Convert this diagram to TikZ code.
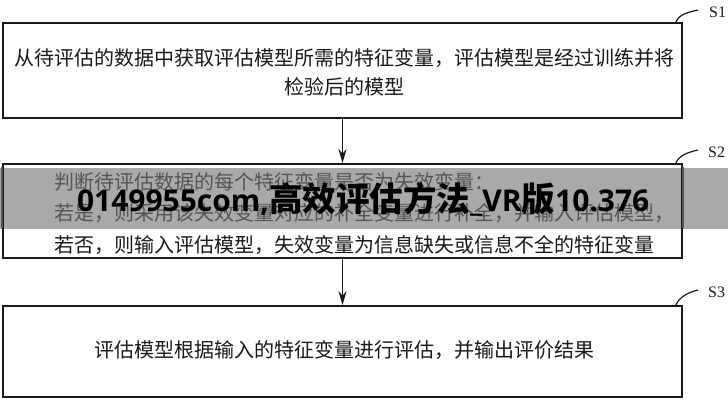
\documentclass[tikz,border=0pt]{standalone}
\usepackage{fontspec}
\setmainfont{Liberation Serif}
\newfontfamily\cjk{Noto Sans CJK SC}
\newfontfamily\lat{Open Sans}
\usetikzlibrary{arrows.meta,calc}
\definecolor{bandc}{RGB}{169,169,169}
\definecolor{dim}{RGB}{85,85,85}
\definecolor{ink}{RGB}{25,25,25}
\tikzset{
  stepbox/.style={draw=ink, line width=1.8pt, inner sep=0pt, minimum width=679pt},
  txt/.style={text=ink, inner sep=0pt, font=\cjk\fontsize{20}{29}\selectfont},
  arr/.style={draw=ink, line width=1.6pt, -{Stealth[length=14pt,width=8pt]}},
  lead/.style={draw=ink, line width=1.2pt},
  dimedge/.style={draw=dim, line width=1.9pt},
  lab/.style={text=ink, inner sep=0pt, font=\fontsize{16}{18}\selectfont},
  wml/.style={text=black, inner sep=0pt, outer sep=0pt, anchor=base west, font=\lat\bfseries\fontsize{30}{36}\selectfont},
  wmc/.style={text=black, inner sep=0pt, outer sep=0pt, anchor=base west, font=\cjk\bfseries\fontsize{33.5}{36}\selectfont}
}
\begin{document}
\begin{tikzpicture}[x=1pt,y=-1pt]
\useasboundingbox (0,0) rectangle (728,400);
\fill[white] (0,0) rectangle (728,400);
% watermark band
\fill[bandc] (0,168) rectangle (728,229);
\node[stepbox, minimum height=95pt] (b1) at (342.5,70.5) {};
\node[stepbox, minimum height=94pt] (b2) at (342.5,211) {};
\node[stepbox, minimum height=91pt] (b3) at (342.5,351.5) {};
% parts of box 2 lying under the band
\draw[dimedge] ($(b2.north west)+(0,4)$) -- ($(b2.north west)+(0,65)$);
\draw[dimedge] ($(b2.north east)+(0,4)$) -- ($(b2.north east)+(0,65)$);
\node[txt] (t1) at (344,72.5) [align=center] {从待评估的数据中获取评估模型所需的特征变量，评估模型是经过训练并将\\检验后的模型};
\node[txt, text=dim, anchor=west] (t2a) at (54,182) {判断待评估数据的每个特征变量是否为失效变量：};
\node[txt, text=dim, anchor=west] (t2b) at (54,213.5) {若是，则采用该失效变量对应的补全变量进行补全，并输入评估模型，};
\node[txt, anchor=west] (t2c) at (54,245) {若否，则输入评估模型，失效变量为信息缺失或信息不全的特征变量};
\node[txt] (t3) at (344,350) {评估模型根据输入的特征变量进行评估，并输出评价结果};
\draw[arr] (b1.south) -- (b2.north);
\draw[arr] (b2.south) -- (b3.north);
\node[lab, anchor=west] (s1) at (709,12) {S1};
\node[lab, anchor=west] (s2) at (708,152) {S2};
\node[lab, anchor=west] (s3) at (708,292) {S3};
\coordinate (e1) at (698,10);
\coordinate (e2) at (698,150);
\coordinate (e3) at (698,290);
\draw[lead] ([xshift=-7pt]b1.north east) .. controls +(3,-8) and +(-9,2) .. (e1);
\draw[lead] ([xshift=-7pt]b2.north east) .. controls +(3,-8) and +(-9,2) .. (e2);
\draw[lead] ([xshift=-7pt]b3.north east) .. controls +(3,-8) and +(-9,2) .. (e3);
% watermark text
\node[wml] (wm1) at (77,211.5) {0149955com,};
\node[wmc] (wm2) at (wm1.base east) {高效评估方法};
\node[wml] (wm3) at (wm2.base east) {\_VR};
\node[wmc] (wm4) at (wm3.base east) {版};
\node[wml] (wm5) at (wm4.base east) {10.376};
\end{tikzpicture}
\end{document}
